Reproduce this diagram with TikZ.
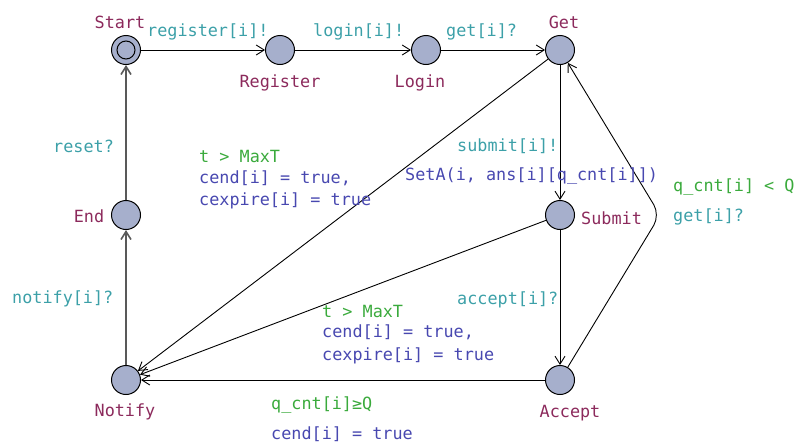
\documentclass[tikz,border=0pt]{standalone}
\usepackage{fontspec}
\setmainfont{DejaVu Sans Mono}
\usetikzlibrary{arrows.meta}
\definecolor{locc}{RGB}{140,42,92}
\definecolor{syncc}{RGB}{60,160,168}
\definecolor{guardc}{RGB}{58,170,60}
\definecolor{updc}{RGB}{72,72,176}
\definecolor{nodefill}{RGB}{166,175,204}
\begin{document}
\begin{tikzpicture}[x=1pt,y=-1pt,
  loc/.style={circle,draw=black,line width=1pt,fill=nodefill,minimum size=29pt,inner sep=0pt},
  lbl/.style={font=\fontsize{16.8}{20}\selectfont,inner sep=0pt},
  locname/.style={lbl,text=locc},
  sync/.style={lbl,text=syncc,anchor=west},
  guard/.style={lbl,text=guardc,anchor=west},
  upd/.style={lbl,text=updc,anchor=west},
  edge/.style={line width=0.9pt,-{Straight Barb[length=8pt,width=10pt]}},
  gedge/.style={draw=black!65,line width=1.6pt,-{Straight Barb[length=8pt,width=10pt]}}]
\useasboundingbox (0,0) rectangle (798,442);
% locations
\node[loc] (start) at (126,50) {};
\draw[line width=1pt] (start.center) circle (9pt);
\node[loc] (register) at (280,50) {};
\node[loc] (login) at (426,50) {};
\node[loc] (get) at (560,50) {};
\node[loc] (submit) at (560,215) {};
\node[loc] (accept) at (560,380) {};
\node[loc] (notify) at (126,380) {};
\node[loc] (end) at (126,215) {};
\coordinate (bend) at (660,215);
% location names
\node[locname] (nstart) at (120,22) {Start};
\node[locname] (nregister) at (280,83) {Register};
\node[locname] (nlogin) at (420,83) {Login};
\node[locname] (nget) at (564,22) {Get};
\node[locname,anchor=west] (nsubmit) at (581,218) {Submit};
\node[locname] (naccept) at (570,413) {Accept};
\node[locname] (nnotify) at (125,412) {Notify};
\node[locname] (nend) at (89,216) {End};
% edges
\draw[edge] (start) -- (register);
\draw[edge] (register) -- (login);
\draw[edge] (login) -- (get);
\draw[gedge] (end) -- (start);
\draw[gedge] (notify) -- (end);
\draw[edge] (get) -- (notify);
\draw[edge] (get) -- (submit);
\draw[edge] (submit) -- (notify);
\draw[edge] (submit) -- (accept);
\draw[edge] (accept) -- (notify);
\draw[edge,rounded corners=12pt] (accept) -- (bend) -- (get);
% edge labels
\node[sync] (s1) at (147,32) {register[i]!};
\node[sync] (s2) at (313,32) {login[i]!};
\node[sync] (s3) at (446,32) {get[i]?};
\node[sync] (s4) at (53,146) {reset?};
\node[sync] (s5) at (12,299) {notify[i]?};
\node[sync] (s6) at (457,146) {submit[i]!};
\node[sync] (s7) at (457,300) {accept[i]?};
\node[sync] (s8) at (673,217) {get[i]?};
\node[guard] (g1) at (199,156) {t > MaxT};
\node[upd] (u1) at (199,178) {cend[i] = true,};
\node[upd] (u2) at (199,201) {cexpire[i] = true};
\node[upd] (u3) at (405,176) {SetA(i, ans[i][q\_cnt[i]])};
\node[guard] (g2) at (673,187) {q\_cnt[i] < Q};
\node[guard] (g3) at (322,311) {t > MaxT};
\node[upd] (u4) at (322,332) {cend[i] = true,};
\node[upd] (u5) at (322,356) {cexpire[i] = true};
\node[guard] (g4) at (271,405) {q\_cnt[i]≥Q};
\node[upd] (u6) at (271,434) {cend[i] = true};
\end{tikzpicture}
\end{document}
